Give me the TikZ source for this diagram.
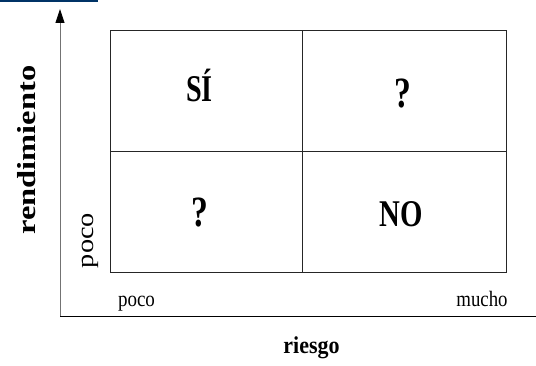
\documentclass[tikz,border=0pt]{standalone}
\usepackage{fontspec}
\setmainfont{Liberation Serif}
\usepackage{xcolor}
\usetikzlibrary{arrows.meta, positioning}
\definecolor{navy}{RGB}{0,51,102}

\begin{document}
\begin{tikzpicture}[x=1pt, y=-1pt,
    cell/.style={draw=black!85, line width=0.9pt, minimum width=#1, minimum height=121pt,
                 inner sep=0pt, outer sep=0pt},
    verdict/.style={anchor=base, inner sep=0pt, font=\fontsize{32}{32}\selectfont\bfseries},
    tick/.style={anchor=base, inner sep=0pt, font=\fontsize{20}{20}\selectfont},
    axislabel/.style={anchor=base, inner sep=0pt, font=\fontsize{22}{22}\selectfont\bfseries},
    axis/.style={line width=0.9pt, draw=black!55}
]
\useasboundingbox (0,0) rectangle (536,366);
\fill[navy] (0,0) rectangle (97.5,2.3);

% Axes
\coordinate (origin) at (60,316.5);
\coordinate (ytop) at (60,9);
\coordinate (xend) at (536,316.5);
\draw[axis, -{Triangle[length=14pt, width=9pt, color=black]}] (origin) -- (ytop);
\draw[axis, draw=black] (origin) -- (xend);

% Quadrants
\node[cell=192pt] (hiLo) at (206,90.5) {};
\node[cell=204pt] (hiHi) at (404,90.5) {};
\node[cell=192pt] (loLo) at (206,211.5) {};
\node[cell=204pt] (loHi) at (404,211.5) {};

\node[verdict] (si) at (199.5,102) {\scalebox{0.88}[1.18]{SÍ}};
\node[verdict] (q1) at (403,108) {\scalebox{1.05}[1.35]{?}};
\node[verdict] (q2) at (200,227) {\scalebox{1.05}[1.35]{?}};
\node[verdict] (no) at (401.5,227) {\scalebox{0.9}[1.18]{NO}};

% Labels
\node[axislabel, rotate=90, font=\fontsize{26}{26}\selectfont\bfseries] (rend) at (35,150) {\scalebox{1.25}[1]{rendimiento}};
\node[tick, rotate=90, font=\fontsize{24}{24}\selectfont] (lowy) at (93,240.5) {\scalebox{1.18}[1]{poco}};
\node[tick] (lowx) at (136.5,306.5) {\scalebox{0.95}[1.1]{poco}};
\node[tick] (highx) at (482,306.5) {\scalebox{0.94}[1.1]{mucho}};
\node[axislabel] (risk) at (311.5,354) {\scalebox{1}[1.1]{riesgo}};
\end{tikzpicture}
\end{document}
